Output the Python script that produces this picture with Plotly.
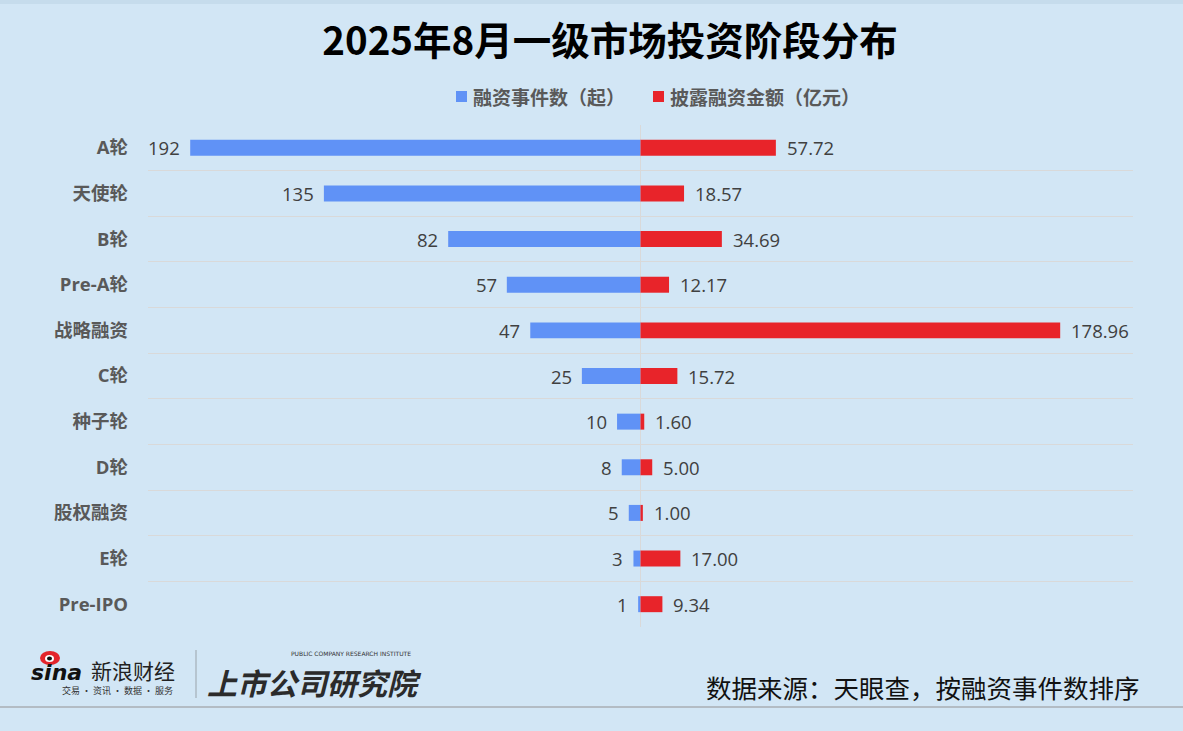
import plotly.graph_objects as go

categories = ["A轮", "天使轮", "B轮", "Pre-A轮", "战略融资", "C轮", "种子轮", "D轮", "股权融资", "E轮", "Pre-IPO"]
event_counts = [192, 135, 82, 57, 47, 25, 10, 8, 5, 3, 1]
amounts = [57.72, 18.57, 34.69, 12.17, 178.96, 15.72, 1.60, 5.00, 1.00, 17.00, 9.34]
series_names = ["融资事件数（起）", "披露融资金额（亿元）"]

BG = "#d2e6f5"
BLUE = "#6092f6"
RED = "#e8242a"
FONT = "Noto Sans CJK SC"
MIXFONT = "Open Sans, Noto Sans CJK SC"

pos = list(range(len(categories)))

fig = go.Figure()
fig.add_trace(go.Bar(
    y=pos, x=[-v for v in event_counts], orientation="h", width=0.35,
    marker=dict(color=BLUE, line=dict(width=0)), name=series_names[0],
    hoverinfo="skip", showlegend=False))
fig.add_trace(go.Bar(
    y=pos, x=amounts, orientation="h", width=0.35,
    marker=dict(color=RED, line=dict(width=0)), name=series_names[1],
    hoverinfo="skip", showlegend=False))

annotations = []
for i, v in enumerate(event_counts):
    annotations.append(dict(x=-v, y=i, xref="x", yref="y", text=str(v), showarrow=False,
                            xanchor="right", xshift=-8,
                            font=dict(family=MIXFONT, size=18.5, color="#404040")))
for i, v in enumerate(amounts):
    annotations.append(dict(x=v, y=i, xref="x", yref="y", text=f"{v:.2f}", showarrow=False,
                            xanchor="left", xshift=9,
                            font=dict(family=MIXFONT, size=18.5, color="#404040")))

W, H = 1183, 731
ML, MR, MT, MB = 148, 50, 125, 104
pw, ph = W - ML - MR, H - MT - MB

def px_x(x):
    return (x - ML) / pw

def px_y(y):
    return (H - MB - y) / ph

# legend (key) : swatch + series name
legend_x = [456, 653]
legend_colors = [BLUE, RED]
shapes = []
for lx, col, name in zip(legend_x, legend_colors, series_names):
    shapes.append(dict(type="rect", xref="paper", yref="paper",
                       x0=px_x(lx), x1=px_x(lx + 11), y0=px_y(102), y1=px_y(91),
                       fillcolor=col, line=dict(width=0)))
    annotations.append(dict(x=px_x(lx + 15), y=px_y(96.5), xref="paper", yref="paper", text=name,
                            showarrow=False, xanchor="left", yanchor="middle",
                            font=dict(family=FONT, size=19, color="#595959", weight="bold")))

footer = [
    (1142, 686, "数据来源：天眼查，按融资事件数排序", "right", dict(family=FONT, size=25.5, color="#111111")),
    (56, 672, "<i><b>sina</b></i>", "center", dict(family="DejaVu Sans", size=22, color="#111111")),
    (133, 670, "新浪财经", "center", dict(family=FONT, size=21, color="#222222")),
    (117, 690, "交易 · 资讯 · 数据 · 服务", "center", dict(family=FONT, size=9, color="#333333")),
    (314, 682, "<b><i>上市公司研究院</i></b>", "center", dict(family=FONT, size=30, color="#2b2b2b")),
    (351, 653, "PUBLIC COMPANY RESEARCH INSTITUTE", "center", dict(family="DejaVu Sans", size=6, color="#333333")),
]
for x, y, t, anc, f in footer:
    annotations.append(dict(x=px_x(x), y=px_y(y), xref="paper", yref="paper", text=t,
                            showarrow=False, xanchor=anc, yanchor="middle", font=f))

shapes += [
    dict(type="line", xref="paper", yref="paper", x0=px_x(0), x1=px_x(W), y0=px_y(707), y1=px_y(707),
         line=dict(color="#a8aeb3", width=1.5)),
    dict(type="line", xref="paper", yref="paper", x0=px_x(196), x1=px_x(196), y0=px_y(650), y1=px_y(698),
         line=dict(color="#9aa3aa", width=1)),
    dict(type="circle", xref="paper", yref="paper", x0=px_x(40), x1=px_x(60), y0=px_y(665), y1=px_y(651),
         fillcolor="#e3242b", line=dict(width=0)),
    dict(type="circle", xref="paper", yref="paper", x0=px_x(45), x1=px_x(54), y0=px_y(662), y1=px_y(655),
         fillcolor="#ffffff", line=dict(width=0)),
    dict(type="circle", xref="paper", yref="paper", x0=px_x(47), x1=px_x(52), y0=px_y(660.5), y1=px_y(656.5),
         fillcolor="#111111", line=dict(width=0)),
    dict(type="rect", xref="paper", yref="paper", x0=px_x(0), x1=px_x(W), y0=px_y(4), y1=px_y(0),
         fillcolor="#c6dcec", line=dict(width=0), layer="below"),
]

fig.update_layout(
    width=W, height=H,
    paper_bgcolor=BG, plot_bgcolor=BG,
    margin=dict(l=ML, r=MR, t=MT, b=MB, autoexpand=False),
    barmode="relative",
    title=dict(text="2025年8月一级市场投资阶段分布", x=610 / W, xanchor="center",
               y=1 - 42 / H, yanchor="middle", yref="container",
               font=dict(family=FONT, size=38.5, color="#000000", weight="bold")),
    xaxis=dict(range=[-210, 210], showticklabels=False, showgrid=False, ticks="",
               zeroline=True, zerolinecolor="#d9d9d9", zerolinewidth=1, fixedrange=True),
    yaxis=dict(range=[len(categories) - 0.5, -0.5], tickvals=pos, ticktext=categories,
               showgrid=False, zeroline=False, ticks="", ticklabelstandoff=19,
               tickfont=dict(family=MIXFONT, size=18.5, color="#595959", weight="bold"),
               minor=dict(tickvals=[i - 0.5 for i in range(len(categories) + 1)], showgrid=True,
                          gridcolor="#d9d9d9", gridwidth=1, ticks="")),
    annotations=annotations,
    shapes=shapes,
    showlegend=False,
)

fig.write_html("out.html", config={"displayModeBar": False},
               post_script="document.body.style.margin='0';document.body.style.overflow='hidden';")
